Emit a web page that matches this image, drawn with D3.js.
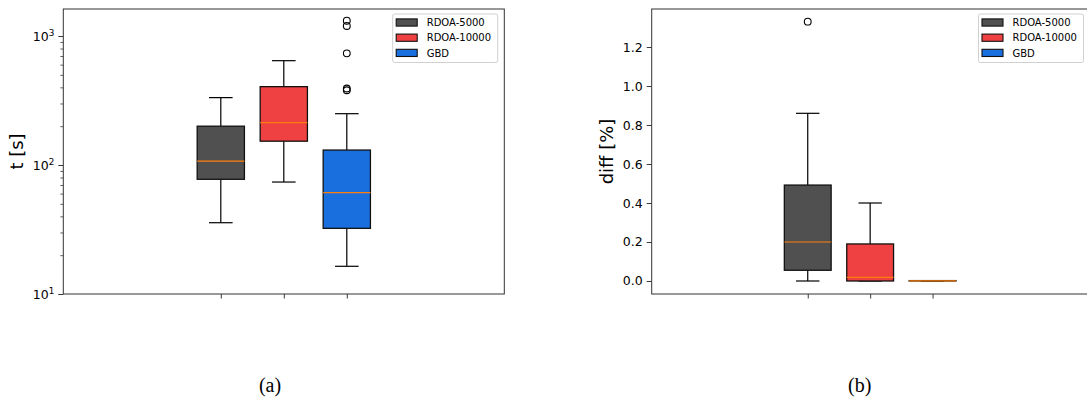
<!DOCTYPE html>
<html>
<head>
<meta charset="utf-8">
<script src="https://cdn.jsdelivr.net/npm/d3@7"></script>
<style>
  html, body { margin: 0; padding: 0; background: #fff; }
  svg { display: block; }
  text { font-family: "DejaVu Sans", sans-serif; fill: #000; }
</style>
</head>
<body>
<svg id="chart" width="1087" height="398"></svg>
<script>
// Series names and box colours
const categories = ["RDOA-5000", "RDOA-10000", "GBD"];
const colors = ["#505050", "#ef4141", "#1a6fdf"];
const positions = [1, 2, 3];

// Runtime [s]: [lower whisker, Q1, median, Q3, upper whisker]
const timeStats = [
  [35.7, 77.5, 107, 200, 333],
  [73.8, 153, 213, 405, 644],
  [16.4, 32.3, 61, 130.6, 250]
];
const timeOutliers = [[], [], [380, 392, 734, 1197, 1315]];
const timeTicks = [10, 100, 1000];
const timeMinorTicks = [20, 30, 40, 50, 60, 70, 80, 90, 200, 300, 400, 500, 600, 700, 800, 900];

// Difference [%]: [lower whisker, Q1, median, Q3, upper whisker]
const diffStats = [
  [0, 0.055, 0.2, 0.492, 0.86],
  [0, 0, 0.019, 0.19, 0.40],
  [0, 0, 0.001, 0.002, 0.002]
];
const diffOutliers = [[1.33], [], []];
const diffTicks = [0, 0.2, 0.4, 0.6, 0.8, 1.0, 1.2];

const captions = ["(a)", "(b)"];

const svg = d3.select("#chart");
const boxWidth = 0.75;

function drawPanel(cfg) {
  const x = d3.scaleLinear().domain([-1.5, 5.5]).range([cfg.left, cfg.right]);
  const y = cfg.y;
  const g = svg.append("g");

  // y ticks
  const yAxis = d3.axisLeft(y).tickValues(cfg.ticks).tickSize(5).tickPadding(4).tickFormat(cfg.format);
  const ya = g.append("g").attr("transform", `translate(${cfg.left},0)`).call(yAxis);
  ya.select(".domain").remove();
  ya.selectAll("line").attr("stroke", "#222").attr("stroke-width", 0.9);
  ya.selectAll("text").style("font-size", "12.5px").style("font-family", "DejaVu Sans, sans-serif");
  if (cfg.minor) {
    const ma = g.append("g").attr("transform", `translate(${cfg.left},0)`)
      .call(d3.axisLeft(y).tickValues(cfg.minor).tickSize(3).tickFormat(""));
    ma.select(".domain").remove();
    ma.selectAll("line").attr("stroke", "#222").attr("stroke-width", 0.7);
  }
  if (cfg.superscript) {
    ya.selectAll("text").each(function(d) {
      const t = d3.select(this);
      t.text(null);
      t.append("tspan").text("10");
      t.append("tspan").text(Math.round(Math.log10(d)))
        .attr("dy", "-0.5em").style("font-size", "8.8px");
    });
  }

  // x ticks (no labels)
  const xa = g.append("g").attr("transform", `translate(0,${cfg.bottom})`)
    .call(d3.axisBottom(x).tickValues(positions).tickSize(4.5).tickFormat(""));
  xa.select(".domain").remove();
  xa.selectAll("line").attr("stroke", "#222").attr("stroke-width", 0.9);

  // frame
  g.append("rect")
    .attr("x", cfg.left).attr("y", cfg.top)
    .attr("width", cfg.right - cfg.left).attr("height", cfg.bottom - cfg.top)
    .attr("fill", "none").attr("stroke", "#333").attr("stroke-width", 1);

  // boxes
  cfg.stats.forEach((s, i) => {
    const cx = x(positions[i]);
    const x0 = x(positions[i] - boxWidth / 2), x1 = x(positions[i] + boxWidth / 2);
    const c0 = x(positions[i] - boxWidth / 4), c1 = x(positions[i] + boxWidth / 4);
    const [lo, q1, med, q3, hi] = s;
    const b = g.append("g");
    b.append("line").attr("x1", cx).attr("x2", cx).attr("y1", y(q1)).attr("y2", y(lo))
      .attr("stroke", "#000").attr("stroke-width", 1.2);
    b.append("line").attr("x1", cx).attr("x2", cx).attr("y1", y(q3)).attr("y2", y(hi))
      .attr("stroke", "#000").attr("stroke-width", 1.2);
    b.append("line").attr("x1", c0).attr("x2", c1).attr("y1", y(lo)).attr("y2", y(lo))
      .attr("stroke", "#000").attr("stroke-width", 1.2);
    b.append("line").attr("x1", c0).attr("x2", c1).attr("y1", y(hi)).attr("y2", y(hi))
      .attr("stroke", "#000").attr("stroke-width", 1.2);
    b.append("rect").attr("x", x0).attr("width", x1 - x0)
      .attr("y", y(q3)).attr("height", Math.max(0, y(q1) - y(q3)))
      .attr("fill", colors[i]).attr("stroke", "#111").attr("stroke-width", 1.3);
    b.append("line").attr("x1", x0).attr("x2", x1).attr("y1", y(med)).attr("y2", y(med))
      .attr("stroke", "#ff7f0e").attr("stroke-width", 1.2);
    cfg.outliers[i].forEach(v => {
      b.append("circle").attr("cx", cx).attr("cy", y(v)).attr("r", 3.4)
        .attr("fill", "none").attr("stroke", "#000").attr("stroke-width", 1.1);
    });
  });

  // y label
  g.append("text")
    .attr("transform", `translate(${cfg.labelX},${(cfg.top + cfg.bottom) / 2}) rotate(-90)`)
    .attr("text-anchor", "middle")
    .style("font-size", "18px")
    .text(cfg.label);

  // legend
  const lg = g.append("g").attr("transform", `translate(${cfg.legendX},14)`);
  lg.append("rect").attr("x", 0).attr("y", 0).attr("width", 105).attr("height", 48.5)
    .attr("rx", 2).attr("fill", "#fff").attr("fill-opacity", 0.8)
    .attr("stroke", "#d0d0d0").attr("stroke-width", 1);
  categories.forEach((name, i) => {
    const cy = 8.5 + i * 15.2;
    lg.append("rect").attr("x", 3.5).attr("y", cy - 3.6).attr("width", 21).attr("height", 7.2)
      .attr("fill", colors[i]).attr("stroke", "#111").attr("stroke-width", 1.1);
    lg.append("text").attr("x", 34).attr("y", cy).attr("dy", "0.36em")
      .style("font-size", "10px").text(name);
  });

  // caption
  svg.append("text").attr("x", cfg.captionX).attr("y", 392)
    .attr("text-anchor", "middle")
    .style("font-family", "Liberation Serif, Times New Roman, serif")
    .style("font-size", "20px")
    .text(cfg.caption);
}

drawPanel({
  left: 63.3, right: 504.3, top: 9, bottom: 294,
  y: d3.scaleLog().domain([10, 1620]).range([294, 9]),
  ticks: timeTicks, minor: timeMinorTicks, superscript: true,
  format: d => d,
  stats: timeStats, outliers: timeOutliers,
  label: "t [s]", labelX: 23,
  legendX: 392.7,
  caption: captions[0], captionX: 270
});

drawPanel({
  left: 651.7, right: 1088.6, top: 9, bottom: 294,
  y: d3.scaleLinear().domain([-0.0667, 1.395]).range([294, 9]),
  ticks: diffTicks, minor: null, superscript: false,
  format: d3.format(".1f"),
  stats: diffStats, outliers: diffOutliers,
  label: "diff [%]", labelX: 613,
  legendX: 978.5,
  caption: captions[1], captionX: 859.7
});
</script>
</body>
</html>
